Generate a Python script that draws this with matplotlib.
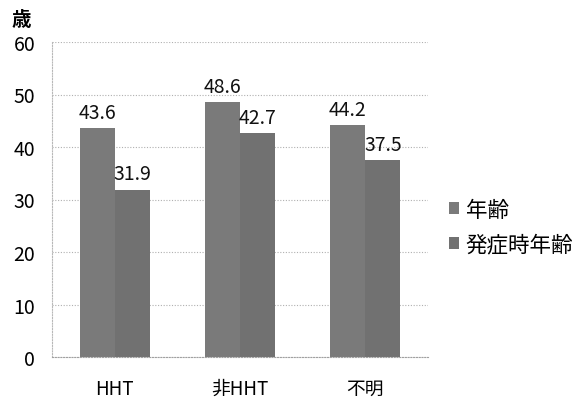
import matplotlib
matplotlib.use("Agg")
import matplotlib.pyplot as plt
import numpy as np
from matplotlib.patches import Patch

plt.rcParams['font.family'] = ['Noto Sans CJK JP', 'DejaVu Sans']

categories = ["HHT", "非HHT", "不明"]
age = [43.6, 48.6, 44.2]
onset_age = [31.9, 42.7, 37.5]
series_names = ["年齢", "発症時年齢"]
yticks = [0, 10, 20, 30, 40, 50, 60]

colors = ["#7a7a7a", "#717171"]

fig = plt.figure(figsize=(5.88, 4.02), dpi=100)
ax = fig.add_axes([52/588, 1 - 358/402, 376/588, 315/402])

x = np.arange(len(categories))
w = 0.28
b1 = ax.bar(x - w/2, age, width=w, color=colors[0], zorder=2)
b2 = ax.bar(x + w/2, onset_age, width=w, color=colors[1], zorder=2)

for rect, v in zip(b1, age):
    ax.text(rect.get_x() + rect.get_width()/2, v + 1.0, f"{v:.1f}",
            ha="center", va="bottom", fontsize=14, color="#111111", zorder=3)
for rect, v in zip(b2, onset_age):
    ax.text(rect.get_x() + rect.get_width()/2, v + 1.0, f"{v:.1f}",
            ha="center", va="bottom", fontsize=14, color="#111111", zorder=3)

ax.set_xlim(-0.5, len(categories) - 0.5)
ax.set_ylim(0, 60)
ax.set_yticks(yticks)
ax.set_yticklabels([str(t) for t in yticks], fontsize=14)
ax.set_xticks(x)
ax.set_xticklabels(categories, fontsize=13.5)
ax.tick_params(axis="x", length=0, pad=15)
ax.tick_params(axis="y", length=0, pad=12)

ax.yaxis.grid(True, color="#b0b0b0", linestyle=(0, (1, 1.5)), linewidth=0.8, zorder=0)
for s in ["top", "right"]:
    ax.spines[s].set_visible(False)
ax.spines["left"].set_color("#b8b8b8")
ax.spines["left"].set_linestyle((0, (1, 1.5)))
ax.spines["bottom"].set_color("#a0a0a0")
ax.spines["bottom"].set_linestyle((0, (1, 1.5)))

fig.text(12/588, 1 - 20/402, "歳", fontsize=14, fontweight="bold", va="center", ha="left")

handles = [Patch(facecolor=c, edgecolor="none") for c in colors]
fig.legend(handles, series_names, loc="center left",
           bbox_to_anchor=(430/588, 1 - 228/402), frameon=False,
           fontsize=15.5, handlelength=0.45, handleheight=0.45,
           handletextpad=0.3, labelspacing=0.6)

fig.savefig("out.png", dpi=100)
